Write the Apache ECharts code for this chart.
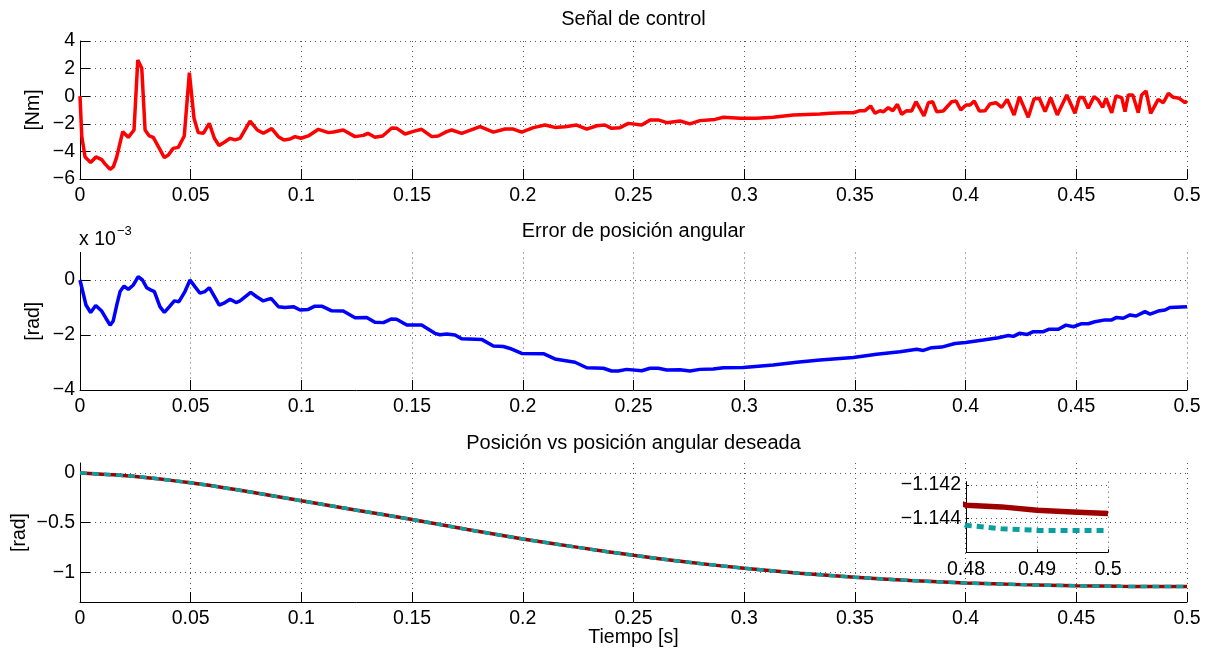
<!DOCTYPE html>
<html><head><meta charset="utf-8">
<script src="https://cdn.jsdelivr.net/npm/echarts@6/dist/echarts.min.js"></script>
<style>html,body{margin:0;padding:0;background:#fff}#c{width:1209px;height:652px}</style>
</head><body><div id="c"></div>
<script>
// ---------------- DATA ----------------
const xTickValues = [0,0.05,0.1,0.15,0.2,0.25,0.3,0.35,0.4,0.45,0.5];
const ctrlTicks = [-6,-4,-2,0,2,4];
const errTicks = [-4,-2,0];          // in units of 1e-3 rad
const posTicks = [-1,-0.5,0];
const insetXTicks = [0.48,0.49,0.5];
const insetYTicks = [-1.144,-1.142];

const titles = ['Señal de control','Error de posición angular','Posición vs posición angular deseada'];

// control signal [t (s), u (Nm)]
const ctrlPoints = [[0,0],[0.0008,-2.9],[0.0023,-4.4],[0.0048,-4.8],[0.0072,-4.4],[0.0098,-4.6],[0.0113,-4.9],[0.0136,-5.3],[0.0151,-5.1],[0.0166,-4.4],[0.0193,-2.57],[0.0218,-2.98],[0.0244,-2.45],[0.0261,2.62],[0.0279,2.02],[0.0294,-2.45],[0.0313,-2.88],[0.0331,-2.98],[0.0354,-3.66],[0.0381,-4.45],[0.0399,-4.26],[0.0421,-3.78],[0.0444,-3.71],[0.0471,-2.88],[0.0494,1.7],[0.0515,-1.6],[0.0534,-2.64],[0.0557,-2.69],[0.0584,-1.97],[0.0607,-3.05],[0.0628,-3.58],[0.0652,-3.34],[0.0678,-3.05],[0.07,-3.17],[0.0723,-3.05],[0.0768,-1.8],[0.0801,-2.45],[0.0828,-2.69],[0.0866,-2.35],[0.0896,-2.93],[0.0921,-3.17],[0.0949,-3.1],[0.0971,-2.93],[0.0998,-3.05],[0.1031,-2.88],[0.1077,-2.4],[0.1122,-2.64],[0.1145,-2.6],[0.1189,-2.45],[0.1242,-2.93],[0.128,-2.84],[0.13,-2.69],[0.1332,-2.98],[0.1367,-2.88],[0.1408,-2.3],[0.1431,-2.33],[0.1468,-2.74],[0.1506,-2.55],[0.1543,-2.4],[0.1589,-2.93],[0.1618,-2.88],[0.1656,-2.57],[0.1679,-2.45],[0.1724,-2.69],[0.1807,-2.21],[0.1867,-2.6],[0.192,-2.38],[0.1957,-2.38],[0.1995,-2.6],[0.2048,-2.28],[0.21,-2.09],[0.2145,-2.26],[0.2191,-2.21],[0.2243,-2.09],[0.2289,-2.38],[0.2334,-2.14],[0.2371,-2.09],[0.2401,-2.33],[0.2439,-2.28],[0.2477,-1.97],[0.2537,-2.09],[0.2575,-1.72],[0.2612,-1.72],[0.265,-1.92],[0.271,-1.8],[0.2755,-2.01],[0.28,-1.77],[0.2868,-1.68],[0.2906,-1.53],[0.2981,-1.6],[0.3056,-1.6],[0.3131,-1.53],[0.3222,-1.36],[0.3342,-1.29],[0.3388,-1.24],[0.3448,-1.2],[0.3493,-1.2],[0.3523,-1.05],[0.3546,-1.05],[0.3571,-0.71],[0.3591,-1.24],[0.3613,-1.05],[0.3628,-1.14],[0.3651,-0.83],[0.3671,-1.05],[0.3692,-0.59],[0.3711,-1.31],[0.3734,-1.05],[0.3756,-1.07],[0.3776,-0.4],[0.3812,-1.43],[0.3832,-0.47],[0.3851,-0.4],[0.3869,-1.12],[0.3899,-1.07],[0.3937,-0.4],[0.3957,-0.35],[0.3978,-1.0],[0.4002,-0.64],[0.402,-0.64],[0.4039,-0.35],[0.4062,-1.07],[0.4088,-1.05],[0.411,-0.57],[0.4137,-0.47],[0.4163,-0.81],[0.4188,-0.23],[0.4219,-1.36],[0.4243,-0.03],[0.4283,-1.53],[0.4309,-0.2],[0.4333,-0.15],[0.4359,-1.12],[0.4384,-0.1],[0.4414,-1.36],[0.4457,0.09],[0.4494,-1.24],[0.4514,-0.1],[0.4532,-0.1],[0.4554,-0.88],[0.458,-0.03],[0.4599,-0.27],[0.4619,-0.81],[0.4634,-0.15],[0.466,-1.2],[0.4679,0.01],[0.4705,-0.1],[0.472,-1.12],[0.4735,0.09],[0.4755,0.09],[0.478,-1.2],[0.4795,0.09],[0.4815,0.38],[0.4836,-1.24],[0.487,-0.23],[0.4893,-0.47],[0.4916,0.21],[0.4938,-0.08],[0.4965,-0.15],[0.4991,-0.47],[0.5,-0.33]];

// angular position error [t (s), e (x 1e-3 rad)]
const errPoints = [[0,0],[0.0027,-0.91],[0.0048,-1.18],[0.0071,-0.93],[0.0098,-1.13],[0.0117,-1.39],[0.0136,-1.64],[0.015,-1.49],[0.0166,-0.91],[0.0181,-0.42],[0.0199,-0.22],[0.0218,-0.34],[0.0241,-0.18],[0.0263,0.12],[0.0282,0],[0.0301,-0.28],[0.0319,-0.36],[0.0336,-0.42],[0.0361,-0.97],[0.0381,-1.18],[0.0404,-0.97],[0.0426,-0.76],[0.0447,-0.79],[0.0474,-0.42],[0.0497,0],[0.0519,-0.24],[0.0542,-0.48],[0.0564,-0.42],[0.0584,-0.28],[0.0605,-0.57],[0.0629,-0.91],[0.0655,-0.82],[0.0678,-0.7],[0.0705,-0.82],[0.0723,-0.76],[0.0771,-0.45],[0.0798,-0.61],[0.0828,-0.76],[0.0863,-0.67],[0.0896,-0.97],[0.0926,-1.0],[0.0964,-0.97],[0.0994,-1.09],[0.1031,-1.07],[0.1061,-0.95],[0.1092,-0.95],[0.1137,-1.12],[0.1189,-1.13],[0.1242,-1.37],[0.1295,-1.36],[0.1332,-1.54],[0.137,-1.55],[0.1405,-1.42],[0.143,-1.43],[0.1476,-1.64],[0.1543,-1.64],[0.1603,-1.94],[0.1626,-1.99],[0.1656,-1.96],[0.1694,-2.0],[0.1724,-2.14],[0.1814,-2.16],[0.1867,-2.4],[0.1912,-2.42],[0.195,-2.51],[0.1995,-2.67],[0.2093,-2.68],[0.2145,-2.87],[0.2236,-2.99],[0.2289,-3.19],[0.2364,-3.21],[0.2401,-3.31],[0.2431,-3.31],[0.2469,-3.25],[0.2537,-3.3],[0.2575,-3.21],[0.2612,-3.21],[0.265,-3.27],[0.271,-3.26],[0.2755,-3.31],[0.28,-3.25],[0.286,-3.24],[0.2906,-3.19],[0.2996,-3.18],[0.3131,-3.09],[0.3237,-2.99],[0.3342,-2.91],[0.3493,-2.82],[0.3598,-2.7],[0.3704,-2.61],[0.3779,-2.52],[0.3809,-2.56],[0.3847,-2.46],[0.3892,-2.44],[0.3952,-2.31],[0.4,-2.27],[0.408,-2.18],[0.4148,-2.1],[0.4193,-2.02],[0.4216,-2.05],[0.4243,-1.94],[0.4279,-1.98],[0.4306,-1.88],[0.4351,-1.88],[0.4378,-1.79],[0.4419,-1.79],[0.4453,-1.64],[0.4487,-1.7],[0.4524,-1.59],[0.4554,-1.59],[0.4584,-1.52],[0.463,-1.45],[0.466,-1.45],[0.4682,-1.36],[0.4712,-1.39],[0.4743,-1.27],[0.477,-1.31],[0.481,-1.15],[0.4833,-1.24],[0.487,-1.13],[0.4901,-1.09],[0.4923,-1.0],[0.5,-0.97]];

// angular position: time, actual, desired (rad)
const posT       = [0, 0.025, 0.05, 0.075, 0.1, 0.125, 0.15, 0.175, 0.2, 0.225, 0.25, 0.275, 0.3, 0.325, 0.35, 0.375, 0.4, 0.425, 0.45, 0.47, 0.48, 0.485, 0.49, 0.495, 0.5];
const posActual  = [0, -0.035, -0.1, -0.185, -0.28, -0.375, -0.47, -0.57, -0.665, -0.75, -0.83, -0.9, -0.96, -1.01, -1.05, -1.083, -1.108, -1.125, -1.136, -1.1418, -1.1432, -1.1433, -1.1435, -1.1436, -1.1437];
const posDesired = [0, -0.035, -0.1, -0.185, -0.28, -0.375, -0.47, -0.57, -0.665, -0.75, -0.83, -0.9, -0.96, -1.01, -1.05, -1.083, -1.108, -1.125, -1.136, -1.1426, -1.1444, -1.1446, -1.1447, -1.1447, -1.1447];

// ---------------- CHART ----------------
const FONT = "'Liberation Sans', Arial, Helvetica, sans-serif";
const FS = 19.5;
function fmt(v){ const s = String(Math.round(v*100000)/100000); return s.replace('-', '\u2212'); }
const gridLine = {show:true, lineStyle:{color:'#555', type:[1,4], width:1}};

function mkAxis(kind, gi, min, max, ticks, extra){
  const isX = kind === 'x';
  return Object.assign({
    type:'value', gridIndex:gi, min:min, max:max,
    axisLine:{show:true, onZero:false, lineStyle:{color:'#000', width:1}},
    axisTick:{show:true, inside:true, length:10, customValues:ticks, lineStyle:{color:'#000', width:1}},
    axisLabel:{show:true, customValues:ticks, margin: isX ? 7 : 5, fontSize:FS, fontFamily:FONT, color:'#000', formatter:fmt},
    splitLine:gridLine,
    nameMoveOverlap:false,
    nameTextStyle:{fontSize:FS, fontFamily:FONT, color:'#000'}
  }, extra || {});
}
const zip = (a,b) => a.map((t,i) => [t, b[i]]);

const option = {
  animation:false,
  backgroundColor:'#fff',
  grid:[
    {left:80, top:41, width:1107, height:138},
    {left:80, top:252.5, width:1107, height:137.5},
    {left:80, top:463, width:1107, height:139},
    {left:966, top:481.7, width:142, height:70.5}
  ],
  xAxis:[
    mkAxis('x',0,0,0.5,xTickValues),
    mkAxis('x',1,0,0.5,xTickValues),
    mkAxis('x',2,0,0.5,xTickValues,{name:'Tiempo [s]', nameLocation:'middle', nameGap:26}),
    mkAxis('x',3,0.48,0.5,insetXTicks,{axisTick:{show:true, inside:true, length:3, customValues:insetXTicks, lineStyle:{color:'#000'}}})
  ],
  yAxis:[
    mkAxis('y',0,-6,4,ctrlTicks,{name:'[Nm]', nameLocation:'middle', nameGap:36}),
    mkAxis('y',1,-4,1,errTicks,{name:'[rad]', nameLocation:'middle', nameGap:36}),
    mkAxis('y',2,-1.3,0.1,posTicks,{name:'[rad]', nameLocation:'middle', nameGap:50}),
    mkAxis('y',3,-1.146,-1.1418,insetYTicks,{axisTick:{show:true, inside:true, length:3, customValues:insetYTicks, lineStyle:{color:'#000'}}})
  ],
  graphic:[
    {type:'text', x:633.5, y:19, style:{text:titles[0], fontSize:20, fontFamily:FONT, fill:'#000', align:'center', verticalAlign:'middle', textAlign:'center', textVerticalAlign:'middle'}},
    {type:'text', x:633.5, y:231, style:{text:titles[1], fontSize:20, fontFamily:FONT, fill:'#000', align:'center', verticalAlign:'middle', textAlign:'center', textVerticalAlign:'middle'}},
    {type:'text', x:633.5, y:443, style:{text:titles[2], fontSize:20, fontFamily:FONT, fill:'#000', align:'center', verticalAlign:'middle', textAlign:'center', textVerticalAlign:'middle'}},
    {type:'text', x:79, y:239.5, style:{text:'x 10', fontSize:FS, fontFamily:FONT, fill:'#000', align:'left', verticalAlign:'middle', textAlign:'left', textVerticalAlign:'middle'}},
    {type:'text', x:117, y:231, style:{text:'\u22123', fontSize:13, fontFamily:FONT, fill:'#000', align:'left', verticalAlign:'middle', textAlign:'left', textVerticalAlign:'middle'}}
  ],
  series:[
    {type:'line', xAxisIndex:0, yAxisIndex:0, data:ctrlPoints, showSymbol:false, lineStyle:{color:'#ff0000', width:3.5}},
    {type:'line', xAxisIndex:1, yAxisIndex:1, data:errPoints, showSymbol:false, lineStyle:{color:'#0000ff', width:3.5}},
    {type:'line', xAxisIndex:2, yAxisIndex:2, data:zip(posT,posActual), showSymbol:false, smooth:0.3, lineStyle:{color:'#9e0000', width:3.5}},
    {type:'line', xAxisIndex:2, yAxisIndex:2, data:zip(posT,posDesired), showSymbol:false, smooth:0.3, lineStyle:{color:'#0a9e9e', width:3.5, type:[7,5]}},
    {type:'line', xAxisIndex:3, yAxisIndex:3, data:zip(posT,posActual), showSymbol:false, clip:true, lineStyle:{color:'#9e0000', width:5.5}},
    {type:'line', xAxisIndex:3, yAxisIndex:3, data:zip(posT,posDesired), showSymbol:false, clip:true, lineStyle:{color:'#0a9e9e', width:5, type:[7,5]}}
  ]
};
const chart = echarts.init(document.getElementById('c'), null, {renderer:'canvas'});
chart.setOption(option);
</script>
</body></html>
